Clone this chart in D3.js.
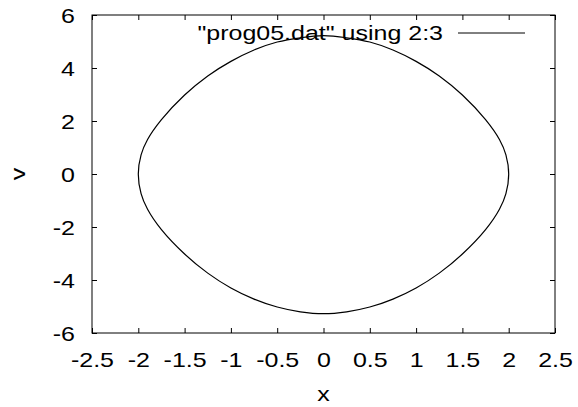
<!DOCTYPE html>
<html><head><meta charset="utf-8">
<script src="https://cdn.jsdelivr.net/npm/d3@7"></script>
<style>body{margin:0;background:#fff}svg{display:block}text{font-family:"Liberation Sans",Arial,sans-serif;fill:#000}</style>
</head><body><svg id="c" width="578" height="407"></svg>
<script>
// Data: points around the closed curve (x, v)
const xs = [0, 0.25, 0.5, 0.75, 1.0, 1.25, 1.5, 1.75, 1.9, 1.97, 2.0,
            1.97, 1.9, 1.75, 1.5, 1.25, 1.0, 0.75, 0.5, 0.25, 0,
            -0.25, -0.5, -0.75, -1.0, -1.25, -1.5, -1.75, -1.9, -1.97, -2.0,
            -1.97, -1.9, -1.75, -1.5, -1.25, -1.0, -0.75, -0.5, -0.25];
const vs = [5.22, 5.14, 4.98, 4.68, 4.25, 3.70, 2.98, 2.05, 1.30, 0.72, 0,
            -0.74, -1.33, -2.10, -3.02, -3.74, -4.30, -4.72, -5.02, -5.20, -5.27,
            -5.20, -5.02, -4.72, -4.30, -3.74, -3.02, -2.10, -1.33, -0.74, 0,
            0.72, 1.30, 2.05, 2.98, 3.70, 4.25, 4.68, 4.98, 5.14];
const xTicks = [-2.5, -2, -1.5, -1, -0.5, 0, 0.5, 1, 1.5, 2, 2.5];
const yTicks = [-6, -4, -2, 0, 2, 4, 6];
const legendLabel = '"prog05.dat" using 2:3';

const svg = d3.select("#c");
const L = 92, R = 555, T = 15, B = 333;
const x = d3.scaleLinear().domain([-2.5, 2.5]).range([L, R]);
const y = d3.scaleLinear().domain([-6, 6]).range([B, T]);
const fs = 21, sx = 1.19;
const fmt = d => String(d);

// axes (gnuplot style: inward ticks, mirrored)
const gB = svg.append("g").attr("transform", `translate(0,${B})`)
  .call(d3.axisBottom(x).tickValues(xTicks).tickSizeInner(-5).tickSizeOuter(0).tickFormat(fmt));
const gT = svg.append("g").attr("transform", `translate(0,${T})`)
  .call(d3.axisTop(x).tickValues(xTicks).tickSizeInner(-5).tickSizeOuter(0).tickFormat(""));
const gL = svg.append("g").attr("transform", `translate(${L},0)`)
  .call(d3.axisLeft(y).tickValues(yTicks).tickSizeInner(-5).tickSizeOuter(0).tickFormat(fmt));
const gR = svg.append("g").attr("transform", `translate(${R},0)`)
  .call(d3.axisRight(y).tickValues(yTicks).tickSizeInner(-5).tickSizeOuter(0).tickFormat(""));
[gB, gT, gL, gR].forEach(g => {
  g.select(".domain").remove();
  g.selectAll("line").attr("stroke", "#000").attr("stroke-width", 1);
});
gB.selectAll("text").attr("font-size", fs).attr("font-family", '"Liberation Sans",Arial,sans-serif')
  .attr("y", 0).attr("dy", null).attr("transform", `translate(0,34) scale(${sx},1)`);
gL.selectAll("text").attr("font-size", fs).attr("font-family", '"Liberation Sans",Arial,sans-serif')
  .attr("x", 0).attr("dy", "0.36em").attr("transform", `translate(-17,0) scale(${sx},1)`);

svg.append("rect").attr("x", L).attr("y", T).attr("width", R - L).attr("height", B - T)
  .attr("fill", "none").attr("stroke", "#000").attr("stroke-width", 1);

// axis labels
svg.append("text").attr("transform", `translate(${(L + R) / 2},401) scale(${sx},1)`).attr("text-anchor", "middle")
  .attr("font-size", fs).text("x");
svg.append("text").attr("transform", `translate(25,${y(0)}) rotate(-90) scale(${sx},1)`).attr("text-anchor", "middle")
  .attr("font-size", fs).text("v");

// curve
const pts = xs.map((d, i) => [x(d), y(vs[i])]);
svg.append("path").attr("d", d3.line().curve(d3.curveCatmullRomClosed.alpha(0.5))(pts))
  .attr("fill", "none").attr("stroke", "#000").attr("stroke-width", 1.2);

// legend
svg.append("text").attr("transform", `translate(443,40) scale(${sx},1)`).attr("text-anchor", "end")
  .attr("font-size", fs).text(legendLabel);
svg.append("line").attr("x1", 458).attr("x2", 525).attr("y1", 33).attr("y2", 33)
  .attr("stroke", "#000").attr("stroke-width", 1);
</script></body></html>
